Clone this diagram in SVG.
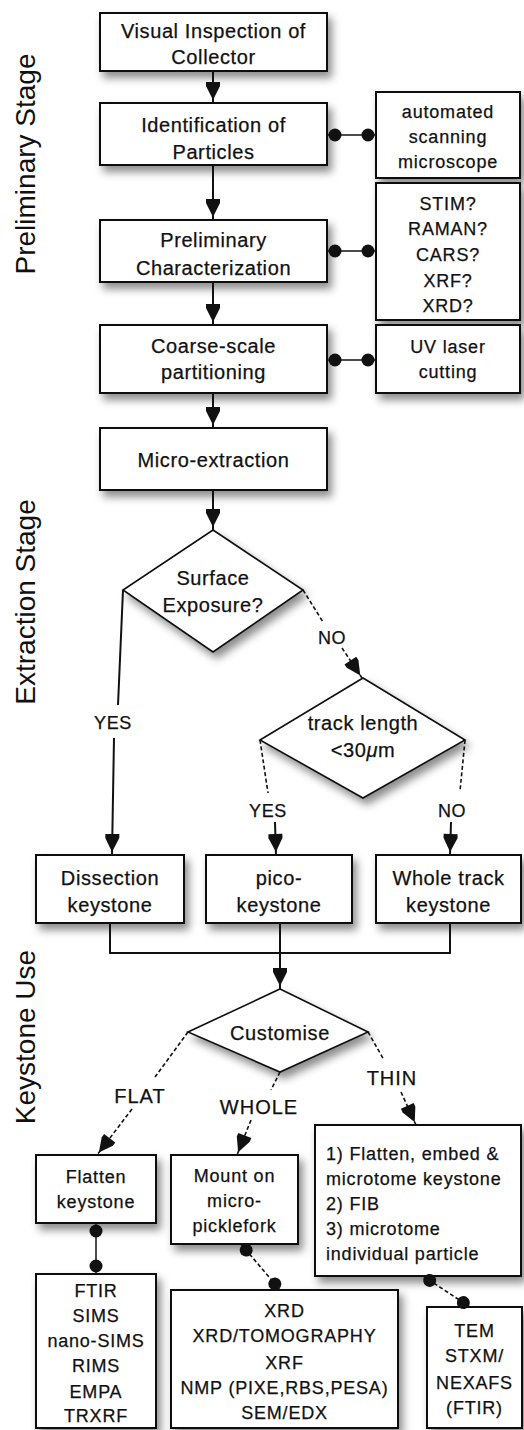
<svg xmlns="http://www.w3.org/2000/svg" width="524" height="1430" viewBox="0 0 524 1430">
<defs>
<style>
text{font-family:"Liberation Sans",Arial,sans-serif;fill:#111;stroke:#111;stroke-width:0.25;text-anchor:middle}
.t20{font-size:20px;letter-spacing:0.6px}
.t18{font-size:18px;letter-spacing:0.8px}
.lab{font-size:18px;letter-spacing:0.6px}
.lab20{font-size:20px;letter-spacing:1px}
.stage{font-size:28px;stroke-width:0}
.left{text-anchor:start}
.box{fill:#fff;stroke:#111;stroke-width:2;filter:url(#sh)}
.dia{fill:#fff;stroke:#111;stroke-width:1.6;filter:url(#sh)}
.ln{fill:none;stroke:#111;stroke-width:2}
.dl{fill:none;stroke:#111;stroke-width:1.6;stroke-dasharray:4 2.5}
.arr{marker-end:url(#ah)}
.dots{marker-start:url(#ds);marker-end:url(#de)}
</style>
<filter id="sh" x="-20%" y="-20%" width="150%" height="160%">
<feDropShadow dx="4" dy="6" stdDeviation="4" flood-color="#000" flood-opacity="0.45"/>
</filter>
<marker id="ah" markerUnits="userSpaceOnUse" markerWidth="22" markerHeight="22" refX="21" refY="0" orient="auto" overflow="visible">
<path d="M0,-7 L4,-7 L18,0 L4,7 L0,7 z" fill="#111"/>
</marker>
<marker id="ds" markerUnits="userSpaceOnUse" markerWidth="16" markerHeight="16" refX="0" refY="0" orient="auto" overflow="visible">
<circle cx="8" cy="0" r="6.5" fill="#111"/>
</marker>
<marker id="de" markerUnits="userSpaceOnUse" markerWidth="16" markerHeight="16" refX="0" refY="0" orient="auto" overflow="visible">
<circle cx="-8" cy="0" r="6.5" fill="#111"/>
</marker>
</defs>
<rect width="524" height="1430" fill="#fff"/>

<g id="stages">
<text class="stage" transform="translate(35,164) rotate(-90)">Preliminary Stage</text>
<text class="stage" transform="translate(35,602) rotate(-90)">Extraction Stage</text>
<text class="stage" transform="translate(35,1037) rotate(-90)">Keystone Use</text>
</g>

<g id="n1"><rect class="box" x="100" y="13" width="227" height="58"/>
<text class="t20" x="213.5" y="38">Visual Inspection of</text><text class="t20" x="213.5" y="64">Collector</text></g>

<g id="n2"><rect class="box" x="100" y="103" width="227" height="62"/>
<text class="t20" x="213.5" y="132">Identification of</text><text class="t20" x="213.5" y="159">Particles</text></g>

<g id="n2s"><rect class="box" x="376" y="92" width="144" height="86"/>
<text class="t18" x="448" y="118">automated</text><text class="t18" x="448" y="143">scanning</text><text class="t18" x="448" y="168">microscope</text></g>

<g id="n3"><rect class="box" x="100" y="220" width="227" height="62"/>
<text class="t20" x="213.5" y="247">Preliminary</text><text class="t20" x="213.5" y="275">Characterization</text></g>

<g id="n3s"><rect class="box" x="376" y="183" width="144" height="137"/>
<text class="t18" x="448" y="210">STIM?</text><text class="t18" x="448" y="235">RAMAN?</text><text class="t18" x="448" y="261">CARS?</text><text class="t18" x="448" y="287">XRF?</text><text class="t18" x="448" y="312">XRD?</text></g>

<g id="n4"><rect class="box" x="100" y="325" width="227" height="68"/>
<text class="t20" x="213.5" y="353">Coarse-scale</text><text class="t20" x="213.5" y="379">partitioning</text></g>

<g id="n4s"><rect class="box" x="376" y="325" width="144" height="68"/>
<text class="t18" x="448" y="353">UV laser</text><text class="t18" x="448" y="378">cutting</text></g>

<g id="n5"><rect class="box" x="100" y="428" width="227" height="62"/>
<text class="t20" x="213.5" y="467">Micro-extraction</text></g>

<g id="d1"><polygon class="dia" points="213,530 303,590 213,652 123,590"/>
<text class="t20" x="213" y="585">Surface</text><text class="t20" x="213" y="612">Exposure?</text></g>

<g id="d2"><polygon class="dia" points="363,678 465,740 363,798 260,740"/>
<text class="t20" x="363" y="730">track length</text><text class="t20" x="363" y="757">&lt;30<tspan font-style="italic">μ</tspan>m</text></g>

<g id="b1"><rect class="box" x="36" y="855" width="148" height="68"/>
<text class="t20" x="110" y="885">Dissection</text><text class="t20" x="110" y="912">keystone</text></g>

<g id="b2"><rect class="box" x="206" y="855" width="146" height="68"/>
<text class="t20" x="279" y="885">pico-</text><text class="t20" x="279" y="912">keystone</text></g>

<g id="b3"><rect class="box" x="376" y="855" width="145" height="68"/>
<text class="t20" x="448.5" y="885">Whole track</text><text class="t20" x="448.5" y="912">keystone</text></g>

<g id="d3"><polygon class="dia" points="280,989 368,1032 280,1072 188,1032"/>
<text class="t20" x="280" y="1040">Customise</text></g>

<g id="b4"><rect class="box" x="36" y="1155" width="120" height="68"/>
<text class="t18" x="96" y="1183">Flatten</text><text class="t18" x="96" y="1208">keystone</text></g>

<g id="b5"><rect class="box" x="171" y="1155" width="127" height="89"/>
<text class="t18" x="234.5" y="1182">Mount on</text><text class="t18" x="234.5" y="1207">micro-</text><text class="t18" x="234.5" y="1232">picklefork</text></g>

<g id="b6"><rect class="box" x="315" y="1125" width="206" height="151"/>
<text class="t18 left" x="326" y="1160">1) Flatten, embed &amp;</text>
<text class="t18 left" x="326" y="1185">microtome keystone</text>
<text class="t18 left" x="326" y="1210">2) FIB</text>
<text class="t18 left" x="326" y="1235">3) microtome</text>
<text class="t18 left" x="326" y="1260">individual particle</text></g>

<g id="b7"><rect class="box" x="36" y="1274" width="120" height="154"/>
<text class="t18" x="96" y="1297">FTIR</text><text class="t18" x="96" y="1322">SIMS</text><text class="t18" x="96" y="1347">nano-SIMS</text><text class="t18" x="96" y="1372">RIMS</text><text class="t18" x="96" y="1398">EMPA</text><text class="t18" x="96" y="1422">TRXRF</text></g>

<g id="b8"><rect class="box" x="171" y="1290" width="227" height="138"/>
<text class="t18" x="284.5" y="1317">XRD</text><text class="t18" x="284.5" y="1342">XRD/TOMOGRAPHY</text><text class="t18" x="284.5" y="1369">XRF</text><text class="t18" x="284.5" y="1394">NMP (PIXE,RBS,PESA)</text><text class="t18" x="284.5" y="1419">SEM/EDX</text></g>

<g id="b9"><rect class="box" x="427" y="1307" width="95" height="121"/>
<text class="t18" x="474.5" y="1337">TEM</text><text class="t18" x="474.5" y="1362">STXM/</text><text class="t18" x="474.5" y="1389">NEXAFS</text><text class="t18" x="474.5" y="1414">(FTIR)</text></g>

<g id="connectors">
<path class="ln arr" d="M213,71 L213,103"/>
<path class="ln arr" d="M213,165 L213,220"/>
<path class="ln arr" d="M213,282 L213,325"/>
<path class="ln arr" d="M213,393 L213,428"/>
<path class="ln arr" d="M213,490 L213,530"/>
<path class="ln dots" style="stroke-width:1.5" d="M327,135 L376,135"/>
<path class="ln dots" style="stroke-width:1.5" d="M327,251 L376,251"/>
<path class="ln dots" style="stroke-width:1.5" d="M327,360 L376,360"/>
<path class="ln arr" d="M123,590 L118,705 M114,738 L112,855"/>
<text class="lab" x="113" y="729">YES</text>
<path class="dl" d="M303,590 L323,622"/>
<path class="dl arr" d="M342,648 L362,678"/>
<text class="lab" x="332" y="644">NO</text>
<path class="dl" d="M260,740 L268,793"/>
<text class="lab" x="268" y="817">YES</text>
<path class="ln arr" d="M275,822 L276,855"/>
<path class="dl" d="M465,740 L460,791"/>
<text class="lab" x="452" y="817">NO</text>
<path class="ln arr" d="M451,822 L450,855"/>
<path class="ln" d="M110,923 L110,953 L450,953 L450,923 M280,923 L280,953"/>
<path class="ln arr" d="M280,953 L280,989"/>
<path class="dl" d="M188,1032 L155,1077"/>
<text class="lab20" x="140" y="1103">FLAT</text>
<path class="dl arr" d="M132,1109 L97,1155"/>
<path class="dl" d="M280,1072 L271,1090"/>
<text class="lab20" x="259" y="1114">WHOLE</text>
<path class="dl arr" d="M251,1120 L237,1155"/>
<path class="dl" d="M368,1032 L384,1060"/>
<text class="lab20" x="392" y="1085">THIN</text>
<path class="dl arr" d="M401,1092 L416,1125"/>
<path class="ln dots" style="stroke-width:1.5" d="M96,1223 L96,1274"/>
<path class="dl dots" d="M241,1244 L280,1290"/>
<path class="dl dots" d="M423,1276 L470,1307"/>
</g>
</svg>
